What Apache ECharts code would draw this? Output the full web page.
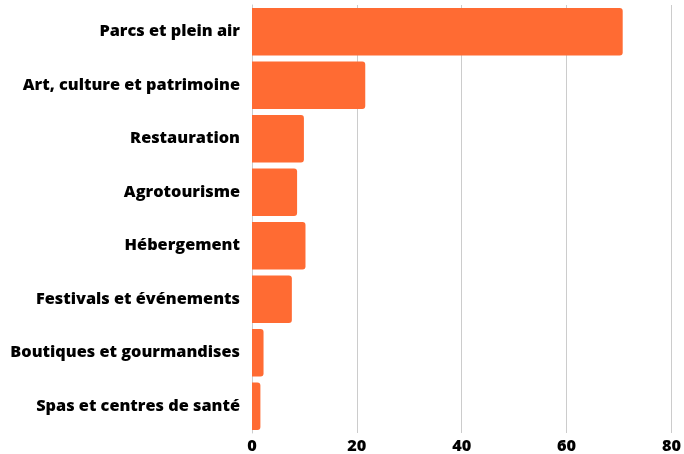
<!DOCTYPE html>
<html>
<head>
<meta charset="utf-8">
<script src="https://cdn.jsdelivr.net/npm/echarts@6/dist/echarts.min.js"></script>
<style>
  html, body { margin: 0; padding: 0; background: #fff; }
  #chart { width: 684px; height: 454px; }
</style>
</head>
<body>
<div id="chart"></div>
<script>
// catégories, du haut vers le bas
const categories = [
  'Parcs et plein air',
  'Art, culture et patrimoine',
  'Restauration',
  'Agrotourisme',
  'Hébergement',
  'Festivals et événements',
  'Boutiques et gourmandises',
  'Spas et centres de santé'
]
const values = [70.7, 21.6, 9.9, 8.6, 10.2, 7.6, 2.2, 1.6]
const xTicks = [0, 20, 40, 60, 80]

const chart = echarts.init(document.getElementById('chart'))
const font = '"Open Sans", "Noto Sans", sans-serif'

const option = {
  animation: false,
  grid: {
    left: 252,
    right: 10,
    top: 5,
    bottom: 21,
    containLabel: false
  },
  xAxis: {
    type: 'value',
    min: xTicks[0],
    max: xTicks[xTicks.length - 1],
    interval: 20,
    axisLine: { show: false },
    axisTick: { show: false },
    axisLabel: {
      color: '#000',
      fontFamily: font,
      fontWeight: 800,
      fontSize: 16.3,
      margin: 5
    },
    splitLine: {
      show: true,
      lineStyle: { color: '#cccccc', width: 1 }
    }
  },
  yAxis: {
    type: 'category',
    inverse: true,
    data: categories,
    axisLine: { show: true, lineStyle: { color: '#cccccc', width: 1 } },
    axisTick: { show: false },
    axisLabel: {
      color: '#000',
      fontFamily: font,
      fontWeight: 800,
      fontSize: 16.3,
      margin: 12
    }
  },
  series: [
    {
      type: 'bar',
      data: values,
      barCategoryGap: '11%',
      itemStyle: {
        color: '#ff6b33',
        borderRadius: [0, 3, 3, 0]
      }
    }
  ]
}

chart.setOption(option)
</script>
</body>
</html>
